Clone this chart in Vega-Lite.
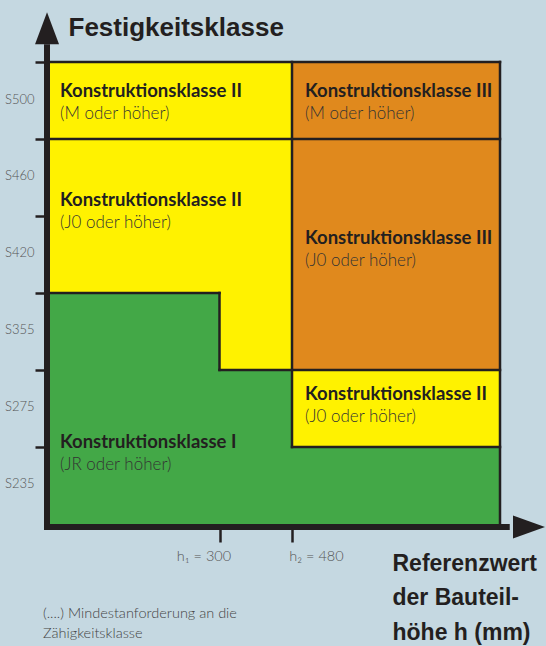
{
  "$schema": "https://vega.github.io/schema/vega-lite/v6.json",
  "width": 453,
  "height": 465,
  "autosize": {"type": "none"},
  "padding": {"left": 47, "top": 62, "right": 46, "bottom": 119},
  "background": "#c5d8e1",
  "config": {"view": {"stroke": null}},
  "encoding": {
    "x": {
      "field": "x", "type": "quantitative",
      "scale": {"domain": [0, 300, 480, 800], "range": [0, 172.5, 245, 453], "nice": false, "zero": false},
      "axis": {
        "values": [300, 480],
        "labelExpr": "datum.value == 300 ? 'h₁ = 300' : 'h₂ = 480'",
        "domain": false, "grid": false,
        "tickSize": 15, "tickWidth": 2.5, "tickColor": "#231f20",
        "labelFont": "Lato", "labelFontSize": 14.5, "labelFontWeight": 300, "labelColor": "#555555",
        "labelPadding": 7,
        "labelOffset": {"condition": {"test": "datum.value == 300", "value": -16}, "value": 24},
        "labelFlush": false, "labelOverlap": false,
        "title": ["Referenzwert", "der Bauteil-", "höhe h (mm)"],
        "titleFont": "Liberation Sans", "titleFontSize": 23, "titleFontWeight": "bold", "titleColor": "#231f20",
        "titleX": 345, "titleY": 43, "titleAlign": "left", "titleBaseline": "alphabetic", "titleLineHeight": 34.5
      }
    },
    "y": {
      "field": "y", "type": "quantitative",
      "scale": {"domain": [-0.04, 6], "nice": false, "zero": false},
      "axis": {
        "values": [1, 2, 3, 4, 5, 6],
        "labelExpr": "['', 'S235', 'S275', 'S355', 'S420', 'S460', 'S500'][datum.value]",
        "domain": false, "grid": false,
        "tickSize": 12, "tickWidth": 2.5, "tickColor": "#231f20",
        "labelOffset": 37, "labelPadding": 1,
        "labelFont": "Lato", "labelFontSize": 13, "labelFontWeight": 300, "labelColor": "#555555",
        "labelBaseline": "middle", "labelFlush": false, "labelOverlap": false,
        "title": "Festigkeitsklasse",
        "titleAngle": 0, "titleX": 21, "titleY": -27, "titleAlign": "left", "titleBaseline": "alphabetic",
        "titleFont": "Liberation Sans", "titleFontSize": 26, "titleFontWeight": "bold", "titleColor": "#231f20"
      }
    }
  },
  "layer": [
    {
      "data": {"values": [
        {"k": "I", "x": 0, "x2": 800, "y": 0, "y2": 6},
        {"k": "II", "x": 0, "x2": 480, "y": 5, "y2": 6},
        {"k": "III", "x": 480, "x2": 800, "y": 5, "y2": 6},
        {"k": "II", "x": 0, "x2": 480, "y": 3, "y2": 5},
        {"k": "II", "x": 300, "x2": 480, "y": 2, "y2": 3},
        {"k": "III", "x": 480, "x2": 800, "y": 2, "y2": 5},
        {"k": "II", "x": 480, "x2": 800, "y": 1, "y2": 2}
      ]},
      "mark": {"type": "rect", "strokeWidth": 0},
      "encoding": {
        "x2": {"field": "x2"},
        "y2": {"field": "y2"},
        "color": {"field": "k", "type": "nominal", "legend": null,
          "scale": {"domain": ["I", "II", "III"], "range": ["#43a847", "#fff200", "#e0891d"]}}
      }
    },
    {
      "data": {"values": [
        {"x": 0, "x2": 800, "y": 6, "y2": 6},
        {"x": 800, "x2": 800, "y": 0, "y2": 6},
        {"x": 0, "x2": 800, "y": 5, "y2": 5},
        {"x": 480, "x2": 480, "y": 1, "y2": 6},
        {"x": 0, "x2": 300, "y": 3, "y2": 3},
        {"x": 300, "x2": 300, "y": 2, "y2": 3},
        {"x": 300, "x2": 800, "y": 2, "y2": 2},
        {"x": 480, "x2": 800, "y": 1, "y2": 1}
      ]},
      "mark": {"type": "rule", "color": "#231f20", "strokeWidth": 2.5, "strokeCap": "square"},
      "encoding": {"x2": {"field": "x2"}, "y2": {"field": "y2"}}
    },
    {
      "data": {"name": "labels", "values": [
        {"x": 0, "y": 5.48, "title": "Konstruktionsklasse II", "note": "(M oder höher)"},
        {"x": 480, "y": 5.48, "title": "Konstruktionsklasse III", "note": "(M oder höher)"},
        {"x": 0, "y": 4.065, "title": "Konstruktionsklasse II", "note": "(J0 oder höher)"},
        {"x": 480, "y": 3.57, "title": "Konstruktionsklasse III", "note": "(J0 oder höher)"},
        {"x": 480, "y": 1.54, "title": "Konstruktionsklasse II", "note": "(J0 oder höher)"},
        {"x": 0, "y": 0.92, "title": "Konstruktionsklasse I", "note": "(JR oder höher)"}
      ]},
      "layer": [
        {
          "mark": {"type": "text", "align": "left", "baseline": "middle", "dx": 13, "dy": -11,
            "font": "Lato", "fontSize": 18.5, "fontWeight": "bold", "color": "#231f20"},
          "encoding": {"text": {"field": "title"}}
        },
        {
          "mark": {"type": "text", "align": "left", "baseline": "middle", "dx": 13, "dy": 12,
            "font": "Lato", "fontSize": 17, "fontWeight": 300, "color": "#333333"},
          "encoding": {"text": {"field": "note"}}
        }
      ]
    },
    {
      "data": {"values": [
        {"x": 0, "x2": 0, "y": -0.078, "y2": 6.23},
        {"x": -5.2, "x2": 815, "y": -0.04, "y2": -0.04}
      ]},
      "mark": {"type": "rule", "color": "#231f20", "strokeWidth": 6},
      "encoding": {"x2": {"field": "x2"}, "y2": {"field": "y2"}}
    },
    {
      "data": {"values": [{"x": 0, "y": 6.44}]},
      "mark": {"type": "point", "shape": "M0,-1L0.75,1L-0.75,1Z", "size": 1024, "filled": true, "color": "#231f20", "opacity": 1, "strokeWidth": 0}
    },
    {
      "data": {"values": [{"x": 844.6, "y": -0.04}]},
      "mark": {"type": "point", "shape": "M1,0L-1,-0.72L-1,0.72Z", "size": 1024, "filled": true, "color": "#231f20", "opacity": 1, "strokeWidth": 0}
    },
    {
      "data": {"values": [{"x": -7, "y": -1.22, "text": "(....) Mindestanforderung an die\nZähigkeitsklasse"}]},
      "mark": {"type": "text", "align": "left", "baseline": "alphabetic", "lineBreak": "\n", "lineHeight": 20,
        "font": "Lato", "fontSize": 14.5, "fontWeight": 300, "color": "#444444"},
      "encoding": {"text": {"field": "text"}}
    }
  ]
}
